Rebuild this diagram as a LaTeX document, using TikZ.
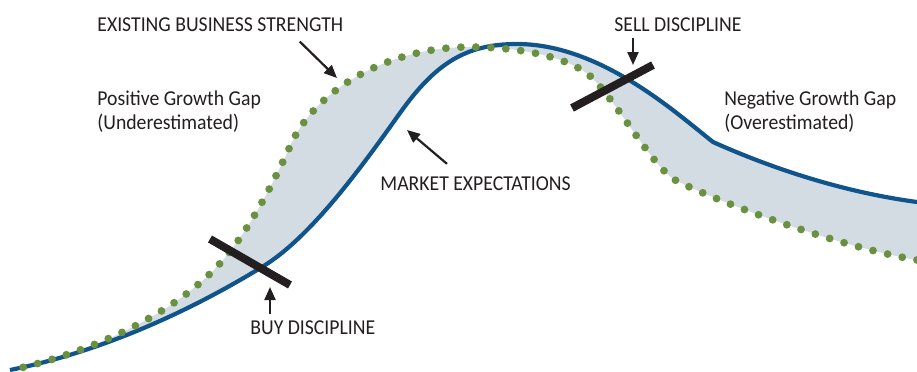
\documentclass[tikz,border=0pt]{standalone}
\usepackage{fontspec}
\setmainfont{Carlito}[FakeStretch=0.93]
\usetikzlibrary{arrows.meta}

\definecolor{expblue}{HTML}{10548C}
\definecolor{strgreen}{HTML}{6A9140}
\definecolor{gapgrey}{HTML}{D3DCE3}
\definecolor{ink}{HTML}{231F20}

% the two curves, in picture units
\def\expcurve{(10,370) .. controls (110,350) and (200,305) .. (262,267)
  .. controls (312,237) and (365,162) .. (400,113)
  .. controls (435,64) and (465,44) .. (517,44)
  .. controls (600,44) and (675,112) .. (713,142)
  .. controls (780,172) and (850,193) .. (917,202)}
\def\strcurve{(917,260) .. controls (840,247) and (720,203) .. (675,180)
  .. controls (650,165) and (610,89) .. (585,72)
  .. controls (560,55) and (515,47) .. (470,47)
  .. controls (390,47) and (318,88) .. (292,142)
  .. controls (275,180) and (250,229) .. (223,260)
  .. controls (180,310) and (100,350) .. (12,370)}

\begin{document}
\begin{tikzpicture}[x=0.5pt, y=-0.5pt,
    lbl/.style = {inner sep=0pt, text=ink, font=\fontsize{10.6}{12}\selectfont},
    expline/.style = {draw=expblue, line width=2.1pt},
    strdots/.style = {draw=strgreen, line width=3.9pt, line cap=round, dash pattern=on 0pt off 7.5pt},
    bar/.style = {draw=ink, line width=4pt},
    pointer/.style = {draw=ink, line width=1.1pt, -{Triangle[length=6.5pt,width=5.5pt]}}]
  \useasboundingbox (0,0) rectangle (917,371);

  % gap between the two curves
  \fill[gapgrey] \expcurve -- \strcurve -- cycle;

  \draw[expline] \expcurve;
  \draw[strdots] \strcurve;

  % buy / sell marks
  \draw[bar] (210,239) -- (290,285);
  \draw[bar] (572,108) -- (653,65);

  \node[lbl, anchor=base west] (strength) at (97,31) {EXISTING BUSINESS STRENGTH};
  \node[lbl, anchor=base west, align=left] (posgap) at (97,129) {Positive Growth Gap\\(Underestimated)};
  \node[lbl, anchor=base west] (market) at (380,190) {MARKET EXPECTATIONS};
  \node[lbl, anchor=base west] (sell) at (614,31) {SELL DISCIPLINE};
  \node[lbl, anchor=base west, align=left] (neggap) at (724,129) {Negative Growth Gap\\(Overestimated)};
  \node[lbl, anchor=base west] (buy) at (250,334) {BUY DISCIPLINE};

  \coordinate (strtip) at (337,78);
  \coordinate (exptip) at (407,130);
  \coordinate (selltip) at (633,65);
  \coordinate (buytip) at (270,287);

  \draw[pointer] ([shift={(-44,10)}]strength.south east) -- (strtip);
  \draw[pointer] ([shift={(67,-12)}]market.north west) -- (exptip);
  \draw[pointer] ([yshift=-3pt]selltip |- sell.south) -- (selltip);
  \draw[pointer] ([yshift=3pt]buytip |- buy.north) -- (buytip);
\end{tikzpicture}
\end{document}
